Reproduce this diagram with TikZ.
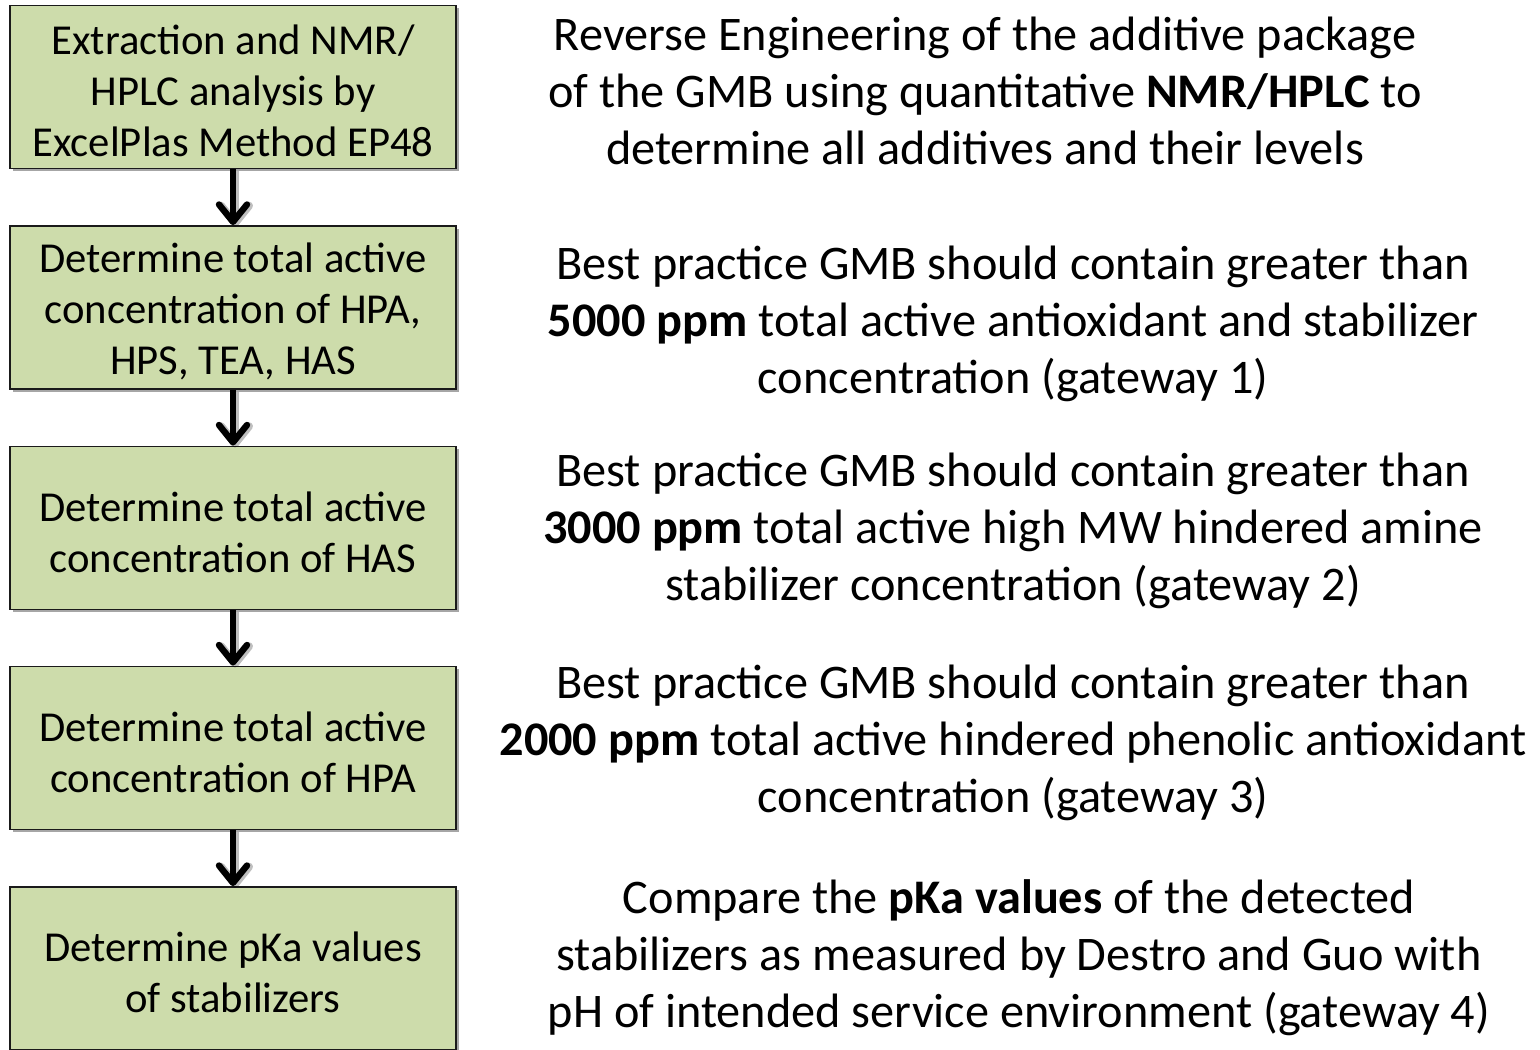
\documentclass[tikz,border=0pt]{standalone}
\usepackage{fontspec}
\setmainfont{Carlito}
\usetikzlibrary{arrows.meta,shadows}
\definecolor{boxgreen}{HTML}{CDDCAB}
\definecolor{boxline}{HTML}{1A1A1A}
\tikzset{
  stepbox/.style={draw=boxline, line width=1.2pt, fill=boxgreen,
    minimum width=334.5pt, minimum height=122.5pt, inner sep=0pt,
    drop shadow={shadow xshift=2pt, shadow yshift=-2pt, opacity=0.35, fill=black}},
  steptext/.style={align=center, inner sep=0pt,
    font=\fontsize{32pt}{38.25pt}\selectfont},
  note/.style={align=center, inner sep=0pt,
    font=\fontsize{36.2pt}{42.75pt}\selectfont},
  barb/.tip={Straight Barb[length=13pt, width=21pt, line cap=round, line join=round]},
  flowline/.style={line width=4.8pt, black, -barb,
    preaction={draw=black, opacity=0.25, line width=6pt, -barb,
      transform canvas={shift={(1.5pt,-1.5pt)}}}}
}
\begin{document}
\begin{tikzpicture}[x=0.75pt, y=-0.75pt]
  \useasboundingbox (0,0) rectangle (1540,1049);

  % process boxes
  \node[stepbox] (b1) at (233,87) {};
  \node[stepbox] (b2) at (233,307.5) {};
  \node[stepbox] (b3) at (233,528) {};
  \node[stepbox] (b4) at (233,748) {};
  \node[stepbox] (b5) at (233,968.5) {};

  % box labels
  \node[steptext] (t1) at ([yshift=-3pt]b1.center) {Extraction and NMR/\\HPLC analysis by\\ExcelPlas Method EP48};
  \node[steptext] (t2) at ([yshift=-3pt]b2.center) {Determine total active\\concentration of HPA,\\HPS, TEA, HAS};
  \node[steptext] (t3) at ([yshift=-3pt]b3.center) {Determine total active\\concentration of HAS};
  \node[steptext] (t4) at ([yshift=-3pt]b4.center) {Determine total active\\concentration of HPA};
  \node[steptext] (t5) at ([yshift=-3pt]b5.center) {Determine pKa values\\of stabilizers};

  % connectors
  \draw[flowline] (b1.south) -- (b2.north);
  \draw[flowline] (b2.south) -- (b3.north);
  \draw[flowline] (b3.south) -- (b4.north);
  \draw[flowline] (b4.south) -- (b5.north);

  % descriptions
  \node[note] (n1) at (985,91) {Reverse Engineering of the additive package\\of the GMB using quantitative \textbf{NMR/HPLC} to\\determine all additives and their levels};
  \node[note] (n2) at (1013,324) {Best practice GMB should contain greater than\\\textbf{5000 ppm} total active antioxidant and stabilizer\\concentration (gateway 1)};
  \node[note] (n3) at (1013,531) {Best practice GMB should contain greater than\\\textbf{3000 ppm} total active high MW hindered amine\\stabilizer concentration (gateway 2)};
  \node[note] (n4) at (1013,743) {Best practice GMB should contain greater than\\\textbf{2000 ppm} total active hindered phenolic antioxidant\\concentration (gateway 3)};
  \node[note] (n5) at (1019,958) {Compare the \textbf{pKa values} of the detected\\stabilizers as measured by Destro and Guo with\\pH of intended service environment (gateway 4)};
\end{tikzpicture}
\end{document}
